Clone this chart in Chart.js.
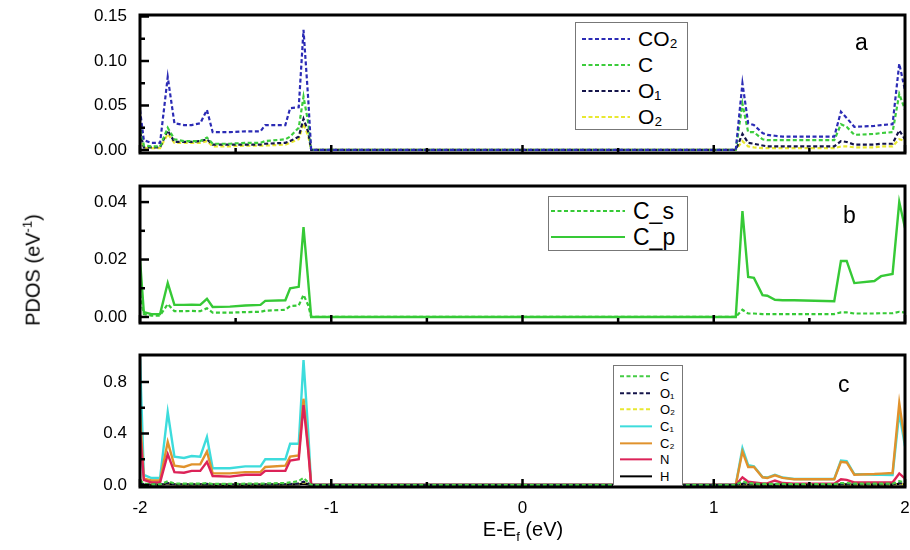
<!DOCTYPE html>
<html>
<head>
<meta charset="utf-8">
<script src="https://cdn.jsdelivr.net/npm/chart.js@4/dist/chart.umd.min.js"></script>
<style>
body { margin: 0; background: #fff; font-family: "Liberation Sans", Arial, sans-serif; }
#wrap { position: relative; width: 910px; height: 550px; overflow: hidden; }
.pane { position: absolute; left: 0; }
.legend { position: absolute; background: #fff; border: 1.5px solid #777; box-sizing: border-box; }
.legend .row { display: flex; align-items: center; white-space: nowrap; }
.legend svg { flex: none; }
.tag { position: absolute; font-size: 23px; color: #000; }
.ytitle { position: absolute; left: 32px; top: 270px; font-size: 20px; white-space: nowrap;
          transform: translate(-50%, -50%) rotate(-90deg); }
.xtitle { position: absolute; left: 523px; top: 531px; font-size: 20px; white-space: nowrap;
          transform: translate(-50%, -50%); }
</style>
</head>
<body>
<div id="wrap">
  <canvas id="chartA" class="pane" width="910" height="160" style="top:0px"></canvas>
  <canvas id="chartB" class="pane" width="910" height="160" style="top:170px"></canvas>
  <canvas id="chartC" class="pane" width="910" height="210" style="top:340px"></canvas>
  <div class="tag" style="left:855px;top:29px">a</div>
  <div class="tag" style="left:843px;top:202px">b</div>
  <div class="tag" style="left:838px;top:371px">c</div>
  <div class="ytitle">PDOS (eV<sup style="font-size:13px">-1</sup>)</div>
  <div class="xtitle">E-E<sub style="font-size:13px">f</sub> (eV)</div>
  <div id="legA" class="legend" style="left:575px;top:22px;width:113px;height:108px;padding:3px 0 0 6px"></div>
  <div id="legB" class="legend" style="left:548px;top:196px;width:140px;height:55px;padding:1px 0 0 2px"></div>
  <div id="legC" class="legend" style="left:613px;top:365px;width:70px;height:121px;padding:2px 0 0 6px"></div>
</div>
<script>
// energy grid (eV)
var energies = [-2, -1.98, -1.94, -1.895, -1.855, -1.82, -1.77, -1.73, -1.685, -1.65, -1.62, -1.53, -1.45, -1.37, -1.345, -1.24, -1.215, -1.17, -1.145, -1.12, -1.105,
  1.115, 1.15, 1.18, 1.21, 1.255, 1.28, 1.32, 1.36, 1.42, 1.63, 1.665, 1.695, 1.735, 1.84, 1.875, 1.935, 1.97, 2.0];

// panel a
var co2A = [0.045, 0.011, 0.008, 0.008, 0.082, 0.030, 0.028, 0.028, 0.030, 0.045, 0.020, 0.020, 0.021, 0.021, 0.028, 0.028, 0.047, 0.048, 0.135, 0.056, 0.0,
  0.0, 0.075, 0.030, 0.028, 0.019, 0.017, 0.016, 0.015, 0.015, 0.015, 0.043, 0.036, 0.026, 0.027, 0.028, 0.029, 0.097, 0.067];
var cA = [0.030, 0.005, 0.004, 0.004, 0.025, 0.012, 0.010, 0.010, 0.010, 0.014, 0.007, 0.007, 0.008, 0.008, 0.010, 0.012, 0.015, 0.025, 0.060, 0.030, 0.0,
  0.0, 0.052, 0.020, 0.020, 0.012, 0.011, 0.011, 0.011, 0.011, 0.011, 0.029, 0.026, 0.017, 0.018, 0.019, 0.020, 0.063, 0.045];
var o1A = [0.020, 0.003, 0.003, 0.003, 0.022, 0.009, 0.009, 0.009, 0.010, 0.012, 0.006, 0.006, 0.006, 0.006, 0.007, 0.008, 0.010, 0.015, 0.035, 0.020, 0.0,
  0.0, 0.018, 0.008, 0.007, 0.005, 0.004, 0.004, 0.004, 0.004, 0.004, 0.010, 0.009, 0.006, 0.006, 0.007, 0.007, 0.022, 0.012];
var o2A = [0.015, 0.002, 0.002, 0.002, 0.018, 0.008, 0.008, 0.008, 0.008, 0.010, 0.004, 0.004, 0.005, 0.005, 0.005, 0.006, 0.008, 0.012, 0.030, 0.015, 0.0,
  0.0, 0.010, 0.004, 0.003, 0.002, 0.002, 0.002, 0.002, 0.002, 0.002, 0.004, 0.004, 0.003, 0.003, 0.004, 0.004, 0.012, 0.010];

// panel b
var csB = [0.008, 0.001, 0.0005, 0.0005, 0.0045, 0.0020, 0.0020, 0.0021, 0.0020, 0.0030, 0.0015, 0.0015, 0.0017, 0.0018, 0.0022, 0.0025, 0.0038, 0.0040, 0.0077, 0.0040, 0.0,
  0.0, 0.0025, 0.0012, 0.0012, 0.0010, 0.0010, 0.0010, 0.0010, 0.0010, 0.0010, 0.0016, 0.0016, 0.0012, 0.0012, 0.0013, 0.0013, 0.0018, 0.0015];
var cpB = [0.020, 0.0017, 0.001, 0.001, 0.0118, 0.0042, 0.0042, 0.0043, 0.0042, 0.0063, 0.0035, 0.0036, 0.0040, 0.0042, 0.0056, 0.0058, 0.0100, 0.0105, 0.0313, 0.012, 0.0,
  0.0, 0.0369, 0.0139, 0.0136, 0.0076, 0.0074, 0.0060, 0.0058, 0.0058, 0.0055, 0.0195, 0.0195, 0.0118, 0.0125, 0.0142, 0.0150, 0.0400, 0.0310];

// panel c
var cC = [0.04, 0.01, 0.005, 0.005, 0.03, 0.012, 0.01, 0.01, 0.01, 0.015, 0.008, 0.008, 0.01, 0.01, 0.012, 0.015, 0.02, 0.03, 0.055, 0.02, 0.0,
  0.0, 0.03, 0.012, 0.012, 0.008, 0.008, 0.008, 0.008, 0.007, 0.007, 0.015, 0.015, 0.01, 0.01, 0.01, 0.01, 0.03, 0.02];
var o1C = [0.02, 0.004, 0.003, 0.003, 0.015, 0.006, 0.006, 0.006, 0.006, 0.008, 0.004, 0.004, 0.004, 0.004, 0.005, 0.006, 0.008, 0.010, 0.025, 0.012, 0.0,
  0.0, 0.012, 0.006, 0.005, 0.004, 0.003, 0.003, 0.003, 0.003, 0.003, 0.007, 0.006, 0.004, 0.004, 0.004, 0.005, 0.015, 0.008];
var o2C = [0.015, 0.003, 0.002, 0.002, 0.012, 0.005, 0.005, 0.005, 0.005, 0.007, 0.003, 0.003, 0.003, 0.003, 0.004, 0.005, 0.006, 0.008, 0.02, 0.01, 0.0,
  0.0, 0.008, 0.004, 0.003, 0.002, 0.002, 0.002, 0.002, 0.002, 0.002, 0.004, 0.004, 0.003, 0.003, 0.003, 0.003, 0.01, 0.006];
var c1C = [0.98, 0.078, 0.054, 0.054, 0.567, 0.22, 0.21, 0.225, 0.22, 0.373, 0.13, 0.13, 0.145, 0.145, 0.20, 0.20, 0.32, 0.32, 0.97, 0.40, 0.0,
  0.0, 0.285, 0.155, 0.145, 0.062, 0.058, 0.080, 0.058, 0.047, 0.047, 0.19, 0.185, 0.085, 0.08, 0.08, 0.078, 0.56, 0.30];
var c2C = [0.55, 0.05, 0.035, 0.035, 0.335, 0.15, 0.14, 0.16, 0.16, 0.26, 0.09, 0.09, 0.10, 0.10, 0.14, 0.15, 0.22, 0.23, 0.67, 0.28, 0.0,
  0.0, 0.26, 0.14, 0.14, 0.06, 0.055, 0.075, 0.055, 0.045, 0.045, 0.18, 0.175, 0.08, 0.085, 0.088, 0.093, 0.637, 0.33];
var nC = [0.42, 0.04, 0.02, 0.02, 0.24, 0.10, 0.095, 0.11, 0.11, 0.18, 0.07, 0.065, 0.08, 0.08, 0.11, 0.11, 0.19, 0.20, 0.62, 0.26, 0.0,
  0.0, 0.06, 0.025, 0.02, 0.012, 0.012, 0.035, 0.015, 0.010, 0.010, 0.045, 0.040, 0.020, 0.020, 0.020, 0.020, 0.09, 0.05];
var hC = [0.01, 0.002, 0.001, 0.001, 0.008, 0.003, 0.003, 0.003, 0.003, 0.005, 0.002, 0.002, 0.002, 0.002, 0.003, 0.003, 0.004, 0.005, 0.012, 0.006, 0.0,
  0.0, 0.006, 0.003, 0.002, 0.002, 0.002, 0.002, 0.002, 0.001, 0.001, 0.004, 0.004, 0.002, 0.002, 0.002, 0.002, 0.008, 0.004];

// tick labels
var xTicks = [-2, -1, 0, 1, 2];
var aTicks = [0, 0.05, 0.10, 0.15];
var bTicks = [0, 0.02, 0.04];
var cTicks = [0, 0.4, 0.8];

var FONT = { family: '"Liberation Sans", Arial, sans-serif', size: 17 };

function pts(vals) {
  return vals.map(function (v, i) { return { x: energies[i], y: v }; });
}
function withMinor(list) {
  var out = [];
  for (var i = 0; i < list.length; i++) {
    out.push(list[i]);
    if (i < list.length - 1) out.push((list[i] + list[i + 1]) / 2);
  }
  return out;
}
function isMajor(v, list) {
  return list.some(function (m) { return Math.abs(m - v) < 1e-9; });
}
function line(label, vals, color, dashed, order) {
  return {
    label: label, data: pts(vals), borderColor: color, backgroundColor: color,
    borderWidth: dashed ? 2.2 : 2.4, borderDash: dashed ? [4, 2.5] : [], pointRadius: 0, tension: 0,
    order: order || 0
  };
}

function frame(yMaj) {
  return {
    id: 'frame',
    afterDatasetsDraw: function (chart) {
      var ctx = chart.ctx, a = chart.chartArea;
      ctx.save();
      ctx.strokeStyle = '#000';
      ctx.lineWidth = 2.5;
      chart.scales.x.ticks.forEach(function (t) {
        var p = chart.scales.x.getPixelForValue(t.value);
        var len = isMajor(t.value, xTicks) ? 8 : 5;
        ctx.beginPath(); ctx.moveTo(p, a.bottom); ctx.lineTo(p, a.bottom - len); ctx.stroke();
      });
      chart.scales.y.ticks.forEach(function (t) {
        var p = chart.scales.y.getPixelForValue(t.value);
        var len = isMajor(t.value, yMaj) ? 9 : 5;
        ctx.beginPath(); ctx.moveTo(a.left, p); ctx.lineTo(a.left + len, p); ctx.stroke();
      });
      ctx.lineWidth = 3;
      ctx.strokeRect(a.left, a.top, a.right - a.left, a.bottom - a.top);
      ctx.restore();
    }
  };
}

function makeChart(id, datasets, yMin, yMax, yMaj, digits, padTop, xHeight, showX) {
  return new Chart(document.getElementById(id), {
    type: 'line',
    data: { datasets: datasets },
    options: {
      responsive: false,
      animation: false,
      layout: { padding: { left: 0, right: 5, top: padTop, bottom: 0 } },
      plugins: { legend: { display: false }, tooltip: { enabled: false } },
      scales: {
        x: {
          type: 'linear', min: -2, max: 2,
          grid: { display: false, drawTicks: false }, border: { display: false },
          afterBuildTicks: function (s) { s.ticks = withMinor(xTicks).map(function (v) { return { value: v }; }); },
          afterFit: function (s) { s.height = xHeight; s.paddingLeft = 0; s.paddingRight = 0; },
          ticks: {
            display: showX, padding: 11, font: FONT, color: '#000', maxRotation: 0, autoSkip: false,
            callback: function (v) { return isMajor(v, xTicks) ? String(v) : ''; }
          }
        },
        y: {
          min: yMin, max: yMax,
          grid: { display: false, drawTicks: false }, border: { display: false },
          afterBuildTicks: function (s) { s.ticks = withMinor(yMaj).map(function (v) { return { value: v }; }); },
          afterFit: function (s) { s.width = 140; s.paddingTop = 0; s.paddingBottom = 0; },
          ticks: {
            padding: 13, font: FONT, color: '#000', autoSkip: false,
            callback: function (v) { return isMajor(v, yMaj) ? v.toFixed(digits) : ''; }
          }
        }
      }
    },
    plugins: [frame(yMaj)]
  });
}

var chartA = makeChart('chartA', [
  line('CO₂', co2A, '#2b2bb5', true, 0),
  line('C', cA, '#3ccc3c', true, 1),
  line('O₁', o1A, '#14144a', true, 2),
  line('O₂', o2A, '#e8e830', true, 3)
], -0.0034, 0.1517, aTicks, 2, 15, 7, false);

var chartB = makeChart('chartB', [
  line('C_s', csB, '#36c936', true, 1),
  line('C_p', cpB, '#36c936', false, 0)
], -0.0021, 0.0456, bTicks, 2, 16, 7, false);

var chartC = makeChart('chartC', [
  line('C', cC, '#44cc44', true, 0),
  line('O₁', o1C, '#14144a', true, 0),
  line('O₂', o2C, '#e8e830', true, 0),
  line('C₁', c1C, '#3ddcdc', false, 3),
  line('C₂', c2C, '#e0922c', false, 2),
  line('N', nC, '#dc2358', false, 1),
  line('H', hC, '#000000', false, 0)
], -0.0155, 1.0097, cTicks, 1, 15, 63, true);

function legend(chart, elId, sampleW, rowH, fontSize) {
  var el = document.getElementById(elId);
  chart.data.datasets.forEach(function (d) {
    var row = document.createElement('div');
    row.className = 'row';
    row.style.height = rowH + 'px';
    var dash = d.borderDash.length ? ' stroke-dasharray="' + d.borderDash.join(',') + '"' : '';
    row.innerHTML = '<svg width="' + sampleW + '" height="' + rowH + '"><line x1="0" y1="' + (rowH / 2) +
      '" x2="' + sampleW + '" y2="' + (rowH / 2) + '" stroke="' + d.borderColor + '" stroke-width="2"' + dash + '/></svg>' +
      '<span style="font-size:' + fontSize + 'px;margin-left:8px">' + d.label + '</span>';
    el.appendChild(row);
  });
}
legend(chartA, 'legA', 48, 26, 21);
legend(chartB, 'legB', 74, 26, 23);
legend(chartC, 'legC', 32, 16.7, 13);
</script>
</body>
</html>
